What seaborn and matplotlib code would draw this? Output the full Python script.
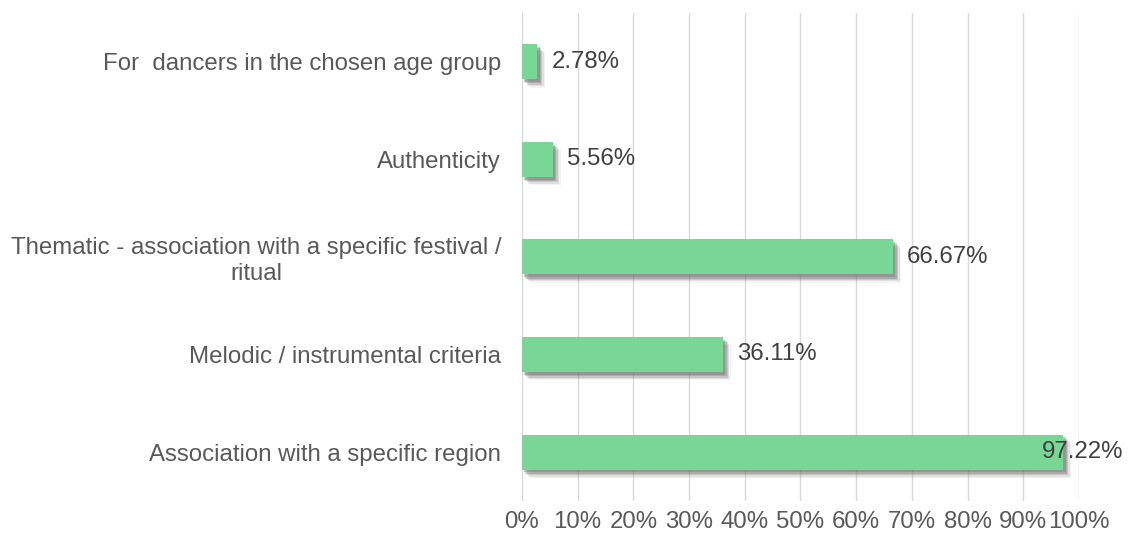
import matplotlib
matplotlib.use("Agg")
import matplotlib.pyplot as plt
import matplotlib.patheffects as pe
import seaborn as sns
import pandas as pd

categories = [
    "For  dancers in the chosen age group",
    "Authenticity",
    "Thematic - association with a specific festival /\nritual",
    "Melodic / instrumental criteria",
    "Association with a specific region",
]
shares = [2.78, 5.56, 66.67, 36.11, 97.22]
tick_values = [0, 10, 20, 30, 40, 50, 60, 70, 80, 90, 100]
tick_labels = [f"{v}%" for v in tick_values]

df = pd.DataFrame({"criterion": categories, "share": shares})

sns.set_style("white")
plt.rcParams["font.family"] = ["Liberation Sans", "DejaVu Sans"]

FS = 17.3

fig = plt.figure(figsize=(11.33, 5.38), dpi=100)
ax = fig.add_axes([0.4607, 0.069, 0.4916, 0.907])

sns.barplot(data=df, y="criterion", x="share", orient="h", color="#7AD694",
            saturation=1, width=0.36, ax=ax, order=categories, linewidth=0)

# soft drop shadow built from several faint offset layers
shadow = [
    pe.SimplePatchShadow(offset=(o, -o - 0.5), shadow_rgbFace="#6e6e6e", alpha=a)
    for o, a in [(5.5, 0.08), (4.5, 0.14), (3.5, 0.22), (2.5, 0.30), (1.5, 0.35)]
]
for bar in ax.patches:
    bar.set_edgecolor("none")
    bar.set_path_effects(shadow + [pe.Normal()])

ax.set_xlim(0, 100)
ax.set_ylim(len(categories) - 0.5, -0.5)
ax.set_xticks(tick_values)
ax.set_xticklabels(tick_labels)
ax.xaxis.grid(True, color="#d9d9d9", linewidth=1.0)
ax.set_axisbelow(True)
for s in ax.spines.values():
    s.set_visible(False)
ax.set_xlabel("")
ax.set_ylabel("")
ax.tick_params(axis="x", length=0, pad=7, labelsize=FS, labelcolor="#595959")
ax.tick_params(axis="y", length=0, pad=15, labelsize=FS, labelcolor="#595959")
for lab in ax.get_yticklabels():
    lab.set_multialignment("center")

texts = []
for i, v in enumerate(shares):
    t = ax.annotate(f"{v:.2f}%", xy=(v, i), xytext=(10, 0), textcoords="offset points",
                    ha="left", va="center", fontsize=FS, color="#404040")
    texts.append(t)

# keep value labels inside the figure edge
fig.canvas.draw()
renderer = fig.canvas.get_renderer()
fig_w = fig.bbox.width
for t in texts:
    bb = t.get_window_extent(renderer)
    limit = fig_w - 10
    if bb.x1 > limit:
        shift_pt = (bb.x1 - limit) * 72 / fig.dpi
        ox, oy = t.xyann
        t.xyann = (ox - shift_pt, oy)

fig.savefig("out.png", dpi=100)
